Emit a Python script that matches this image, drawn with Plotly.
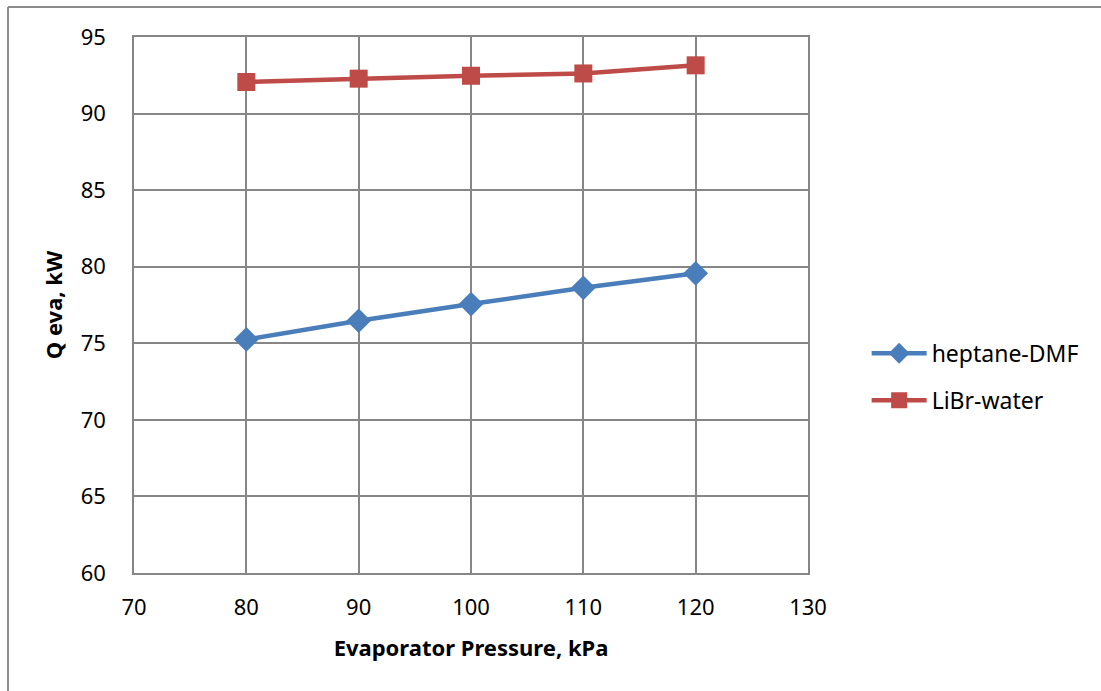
import plotly.graph_objects as go

pressure = [80, 90, 100, 110, 120]
heptane_dmf = [75.25, 76.47, 77.56, 78.62, 79.57]
libr_water = [92.06, 92.28, 92.47, 92.62, 93.15]

x_ticks = [70, 80, 90, 100, 110, 120, 130]
y_ticks = [60, 65, 70, 75, 80, 85, 90, 95]

FONT = "Noto Sans"
GRID = "#868686"

fig = go.Figure()
fig.add_trace(go.Scatter(
    x=pressure, y=heptane_dmf, name="heptane-DMF", mode="lines+markers",
    legendgroup="a",
    line=dict(color="#4A7EBB", width=4.5),
    marker=dict(symbol="diamond", size=19, color="#4A7EBB"),
))
fig.add_trace(go.Scatter(
    x=pressure, y=libr_water, name="LiBr-water", mode="lines+markers",
    legendgroup="b",
    line=dict(color="#BE4B48", width=4.5),
    marker=dict(symbol="square", size=18, color="#BE4B48"),
))

fig.update_layout(
    width=1101, height=691,
    margin=dict(l=134, r=293, t=37, b=118),
    paper_bgcolor="white", plot_bgcolor="white",
    font=dict(family=FONT, size=22, color="black"),
    showlegend=True,
    legend=dict(x=1.087, y=0.366, xanchor="left", yanchor="middle",
                font=dict(family=FONT, size=23), itemwidth=55,
                tracegroupgap=14, bgcolor="rgba(0,0,0,0)"),
    xaxis=dict(range=[70, 130], tickvals=x_ticks, showgrid=True,
               gridcolor=GRID, gridwidth=1.5, showline=True, linecolor=GRID,
               linewidth=1.5, mirror=True, zeroline=False, ticks="",
               ticklabelstandoff=14, tickfont=dict(size=22),
               title=dict(text="<b>Evaporator Pressure, kPa</b>",
                          font=dict(size=22), standoff=20)),
    yaxis=dict(range=[60, 95], tickvals=y_ticks, showgrid=True,
               gridcolor=GRID, gridwidth=1.5, showline=True, linecolor=GRID,
               linewidth=1.5, mirror=True, zeroline=False, ticks="",
               ticklabelstandoff=22, tickfont=dict(size=22),
               title=dict(text="<b>Q eva, kW</b>", font=dict(size=22),
                          standoff=12)),
)

# outer chart border (left and top visible in reference)
fig.add_shape(type="line", xref="paper", yref="paper",
              x0=(8 - 134) / 674, x1=(8 - 134) / 674,
              y0=(573 - 7) / 536, y1=(573 - 700) / 536,
              line=dict(color="#8C8C8C", width=2))
fig.add_shape(type="line", xref="paper", yref="paper",
              x0=(8 - 134) / 674, x1=(1110 - 134) / 674,
              y0=(573 - 7) / 536, y1=(573 - 7) / 536,
              line=dict(color="#8C8C8C", width=2))

fig.write_html("out.html")
